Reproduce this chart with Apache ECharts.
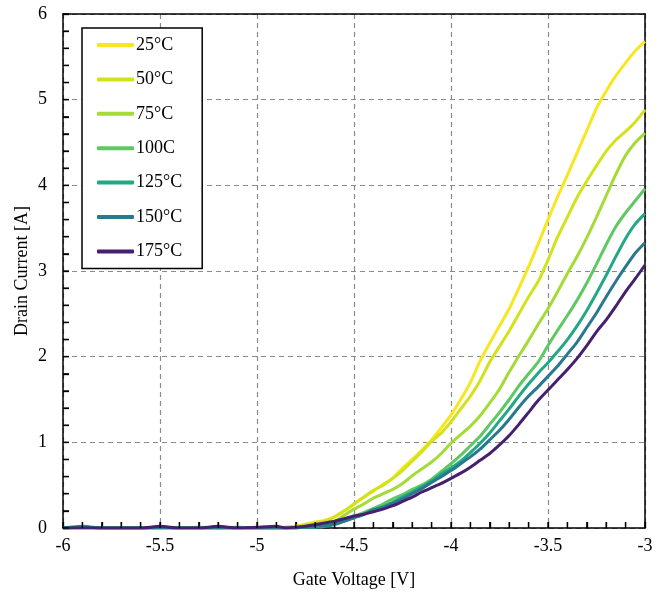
<!DOCTYPE html>
<html>
<head>
<meta charset="utf-8">
<script src="https://cdn.jsdelivr.net/npm/echarts@6/dist/echarts.min.js"></script>
<style>
  html, body { margin: 0; padding: 0; background: #fff; }
  #chart { width: 667px; height: 594px; }
</style>
</head>
<body>
<div id="chart"></div>
<script>
// Gate voltage sweep points [V]
const gateVoltage = [
  -6.0, -5.9, -5.8, -5.7, -5.6, -5.5, -5.4, -5.3, -5.2, -5.1, -5.0, -4.9,
  -4.85, -4.80, -4.75, -4.70, -4.65, -4.60, -4.55, -4.50, -4.45, -4.40,
  -4.35, -4.30, -4.25, -4.20, -4.15, -4.10, -4.05, -4.00, -3.95, -3.90,
  -3.85, -3.80, -3.75, -3.70, -3.65, -3.60, -3.55, -3.50, -3.45, -3.40,
  -3.35, -3.30, -3.25, -3.20, -3.15, -3.10, -3.05, -3.00
];

// Drain current [A] for each junction temperature
const id25 = [
  0.01, 0, 0, 0, 0, 0, 0, 0, 0, 0, 0, 0,
  0.01, 0.02, 0.04, 0.07, 0.09, 0.13, 0.20, 0.28, 0.36, 0.43,
  0.51, 0.58, 0.70, 0.80, 0.91, 1.03, 1.17, 1.32, 1.50, 1.70,
  1.95, 2.16, 2.36, 2.56, 2.80, 3.05, 3.32, 3.60, 3.87, 4.12,
  4.38, 4.64, 4.90, 5.10, 5.28, 5.43, 5.57, 5.68
];
const id50 = [
  0, 0, 0, 0, 0, 0, 0, 0, 0, 0, 0, 0,
  0.01, 0.02, 0.04, 0.06, 0.08, 0.13, 0.20, 0.28, 0.36, 0.44,
  0.50, 0.58, 0.67, 0.78, 0.89, 1.01, 1.11, 1.24, 1.39, 1.54,
  1.72, 1.94, 2.12, 2.30, 2.50, 2.70, 2.88, 3.13, 3.40, 3.63,
  3.86, 4.05, 4.23, 4.40, 4.53, 4.63, 4.74, 4.88
];
const id75 = [
  0, 0, 0, 0, 0, 0, 0.01, 0, 0, 0, 0, 0,
  0, 0.01, 0.02, 0.03, 0.05, 0.08, 0.15, 0.22, 0.28, 0.35,
  0.40, 0.45, 0.52, 0.61, 0.69, 0.77, 0.87, 0.99, 1.09, 1.19,
  1.31, 1.46, 1.62, 1.82, 2.01, 2.19, 2.38, 2.56, 2.76, 2.97,
  3.17, 3.39, 3.63, 3.88, 4.13, 4.35, 4.50, 4.61
];
const id100 = [
  0, 0.01, 0, 0, 0, 0, 0, 0.01, 0, 0, 0, 0,
  0, 0, 0.01, 0.02, 0.03, 0.06, 0.10, 0.14, 0.18, 0.23,
  0.28, 0.34, 0.39, 0.45, 0.50, 0.57, 0.66, 0.75, 0.85, 0.96,
  1.07, 1.21, 1.35, 1.50, 1.66, 1.80, 1.94, 2.13, 2.31, 2.48,
  2.66, 2.86, 3.08, 3.31, 3.52, 3.68, 3.82, 3.96
];
const id125 = [
  0, 0.01, 0, 0, 0, 0.01, 0, 0, 0, 0.01, 0, 0,
  0, 0, 0.01, 0.01, 0.02, 0.04, 0.08, 0.12, 0.16, 0.21,
  0.25, 0.30, 0.36, 0.42, 0.48, 0.55, 0.63, 0.70, 0.78, 0.88,
  0.99, 1.11, 1.25, 1.39, 1.54, 1.68, 1.81, 1.93, 2.06, 2.20,
  2.36, 2.54, 2.74, 2.95, 3.17, 3.38, 3.55, 3.67
];
const id150 = [
  0, 0.02, 0, 0, 0, 0, 0, 0, 0, 0, 0, 0,
  0, 0, 0.01, 0.02, 0.03, 0.05, 0.08, 0.12, 0.16, 0.21,
  0.24, 0.29, 0.34, 0.40, 0.46, 0.53, 0.60, 0.67, 0.75, 0.83,
  0.92, 1.03, 1.14, 1.27, 1.41, 1.54, 1.65, 1.77, 1.89, 2.03,
  2.17, 2.34, 2.51, 2.70, 2.88, 3.05, 3.21, 3.33
];
const id175 = [
  0, 0, 0, 0, 0, 0.02, 0, 0, 0.02, 0, 0.01, 0.02,
  0, 0.01, 0.02, 0.04, 0.06, 0.08, 0.11, 0.14, 0.16, 0.19,
  0.22, 0.26, 0.31, 0.36, 0.42, 0.47, 0.52, 0.58, 0.64, 0.71,
  0.79, 0.87, 0.97, 1.08, 1.21, 1.35, 1.49, 1.61, 1.73, 1.85,
  1.98, 2.13, 2.29, 2.43, 2.59, 2.76, 2.91, 3.07
];

const seriesNames = ['25°C', '50°C', '75°C', '100C', '125°C', '150°C', '175°C'];
const seriesValues = [id25, id50, id75, id100, id125, id150, id175];
const seriesColors = ['#f8e621', '#d2e21b', '#a5db36', '#5ec962', '#22a884', '#2a788e', '#46206f'];

const xTicks = { min: -6, max: -3, interval: 0.5, minorSteps: 5 };
const yTicks = { min: 0, max: 6, interval: 1, minorSteps: 5 };

const serif = "'Liberation Serif', 'Times New Roman', serif";

const chart = echarts.init(document.getElementById('chart'));

const series = seriesNames.map((name, i) => ({
  name: name,
  type: 'line',
  xAxisIndex: 0,
  yAxisIndex: 0,
  data: gateVoltage.map((v, k) => [v, seriesValues[i][k]]),
  showSymbol: false,
  symbol: 'none',
  smooth: 0.2,
  lineStyle: { color: seriesColors[i], width: 3 },
  itemStyle: { color: seriesColors[i] },
  z: 3 + i
}));

const dashed = { show: true, lineStyle: { color: '#8a8a8a', width: 1.2, type: [5, 4] } };
const frameLine = { show: true, onZero: false, lineStyle: { color: '#000', width: 1.5 } };
const tickLine = { color: '#000', width: 1.3 };

// Plain frame edges on the top and right sides
const frameAxis = (extra) => Object.assign({
  type: 'value',
  axisLine: frameLine,
  axisTick: { show: false },
  minorTick: { show: false },
  axisLabel: { show: false },
  splitLine: { show: false }
}, extra);

chart.setOption({
  animation: false,
  backgroundColor: '#fff',
  textStyle: { fontFamily: serif },
  grid: { left: 63, right: 22, top: 14, bottom: 66 },
  legend: {
    orient: 'vertical',
    left: 82, top: 28,
    padding: [7, 20, 7, 15],
    backgroundColor: '#fff',
    borderColor: '#000', borderWidth: 1.5, borderRadius: 0,
    itemWidth: 37, itemHeight: 4,
    itemGap: 14.4,
    icon: 'roundRect',
    textStyle: { fontFamily: serif, fontSize: 18, color: '#000', lineHeight: 20, padding: [0, 0, 0, -3] },
    data: seriesNames
  },
  xAxis: [{
    type: 'value',
    position: 'bottom',
    min: xTicks.min, max: xTicks.max, interval: xTicks.interval,
    name: 'Gate Voltage [V]',
    nameLocation: 'middle',
    nameGap: 43,
    nameMoveOverlap: false,
    nameTextStyle: { fontFamily: serif, fontSize: 18, color: '#000' },
    axisLine: frameLine,
    axisTick: { show: true, inside: true, length: 6, lineStyle: tickLine },
    minorTick: { show: true, splitNumber: xTicks.minorSteps, length: 6, lineStyle: tickLine },
    axisLabel: { fontFamily: serif, fontSize: 18, color: '#000', margin: 9 },
    splitLine: dashed
  },
  frameAxis({ position: 'top', min: xTicks.min, max: xTicks.max })],
  yAxis: [{
    type: 'value',
    position: 'left',
    min: yTicks.min, max: yTicks.max, interval: yTicks.interval,
    name: 'Drain Current [A]',
    nameLocation: 'middle',
    nameGap: 32,
    nameMoveOverlap: false,
    nameTextStyle: { fontFamily: serif, fontSize: 18, color: '#000' },
    axisLine: frameLine,
    axisTick: { show: true, inside: true, length: 6, lineStyle: tickLine },
    minorTick: { show: true, splitNumber: yTicks.minorSteps, length: 6, lineStyle: tickLine },
    axisLabel: { fontFamily: serif, fontSize: 18, color: '#000', margin: 16 },
    splitLine: dashed
  },
  frameAxis({ position: 'right', min: yTicks.min, max: yTicks.max })],
  series: series
});

// Inward tick marks along the bottom and left edges, placed through the axis scales
function drawTicks() {
  const len = 6;
  const marks = [];
  const xCount = Math.round((xTicks.max - xTicks.min) / xTicks.interval) * xTicks.minorSteps;
  const yCount = Math.round((yTicks.max - yTicks.min) / yTicks.interval) * yTicks.minorSteps;
  const xStep = xTicks.interval / xTicks.minorSteps;
  const yStep = yTicks.interval / yTicks.minorSteps;
  for (let k = 0; k <= xCount; k++) {
    const p = chart.convertToPixel({ xAxisIndex: 0, yAxisIndex: 0 }, [xTicks.min + k * xStep, yTicks.min]);
    marks.push({
      type: 'line', silent: true, z: 50,
      shape: { x1: p[0], y1: p[1], x2: p[0], y2: p[1] - len },
      style: { stroke: '#000', lineWidth: 1.3 }
    });
  }
  for (let k = 0; k <= yCount; k++) {
    const p = chart.convertToPixel({ xAxisIndex: 0, yAxisIndex: 0 }, [xTicks.min, yTicks.min + k * yStep]);
    marks.push({
      type: 'line', silent: true, z: 50,
      shape: { x1: p[0], y1: p[1], x2: p[0] + len, y2: p[1] },
      style: { stroke: '#000', lineWidth: 1.3 }
    });
  }
  chart.setOption({ graphic: marks });
}
drawTicks();
</script>
</body>
</html>
